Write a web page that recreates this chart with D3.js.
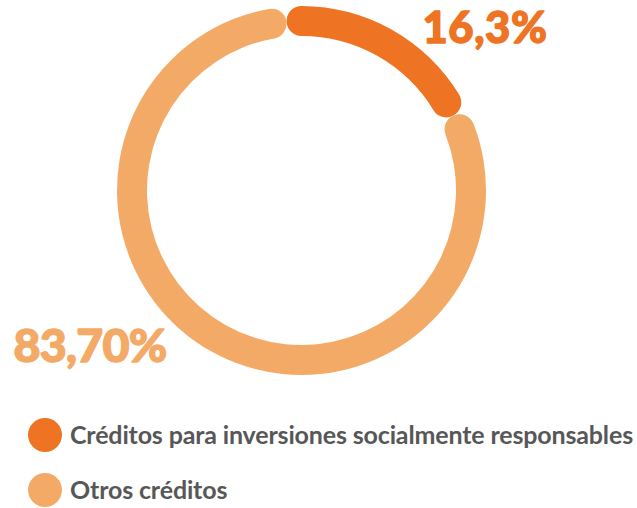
<!DOCTYPE html>
<html><head><meta charset="utf-8">
<script src="https://cdn.jsdelivr.net/npm/d3@7"></script>
<style>body{margin:0;background:#fff} svg{display:block}</style>
</head><body><svg id="c" width="637" height="508"></svg>
<script>
const categories = ["Créditos para inversiones socialmente responsables", "Otros créditos"];
const values = [16.3, 83.7];
const valueLabels = ["16,3%", "83,70%"];
const colors = ["#EE7424", "#F4AA67"];

const svg = d3.select("#c");
const cx = 301.5, cy = 190.5;
const rOut = 184.5, rIn = 154.5;
const rMid = (rOut + rIn) / 2, half = (rOut - rIn) / 2;
const cap = half / rMid;

const angle = d3.scaleLinear().domain([0, 100]).range([0, 2 * Math.PI]);
const cum = d3.cumsum(values);

const arc = d3.arc().innerRadius(rIn).outerRadius(rOut).cornerRadius(half);

const segs = [
  {start: angle(0) - cap, end: angle(cum[0]) + cap, color: colors[0]},
  {start: angle(cum[0]) + cap, end: angle(100) - cap, color: colors[1]}
];

const g = svg.append("g").attr("transform", `translate(${cx},${cy})`);
g.selectAll("path").data(segs).join("path")
  .attr("d", d => arc({startAngle: d.start, endAngle: d.end}))
  .attr("fill", d => d.color);

function fitSpacing(sel, target) {
  const n = sel.text().length;
  const len = sel.node().getComputedTextLength();
  sel.attr("letter-spacing", ((target - len) / n).toFixed(2));
  return (target - len) / n;
}

// value labels
const labelSpec = [
  {x: 422.5, y: 43, w: 125, size: 43.5},
  {x: 13.5, y: 361.5, w: 153, size: 46.5}
];
valueLabels.forEach((t, i) => {
  const s = svg.append("text")
    .attr("x", labelSpec[i].x).attr("y", labelSpec[i].y)
    .attr("font-family", "Lato, sans-serif")
    .attr("font-weight", 900)
    .attr("font-size", labelSpec[i].size)
    .attr("fill", colors[i])
    .attr("stroke", colors[i])
    .attr("stroke-width", 1.4)
    .attr("stroke-linejoin", "round")
    .text(t);
  fitSpacing(s, labelSpec[i].w);
});

// legend
const legY = [435, 490];
const leg = svg.append("g");
let ls = 0;
categories.forEach((c, i) => {
  leg.append("circle").attr("cx", 45).attr("cy", legY[i]).attr("r", 17).attr("fill", colors[i]);
  const t = leg.append("text")
    .attr("x", 70).attr("y", legY[i] + 8.5)
    .attr("font-family", "Lato, sans-serif")
    .attr("font-weight", 700)
    .attr("font-size", 25)
    .attr("fill", "#575757")
    .text(c);
  if (i === 0) ls = fitSpacing(t, 563);
  else t.attr("letter-spacing", ls.toFixed(2));
});
</script></body></html>
